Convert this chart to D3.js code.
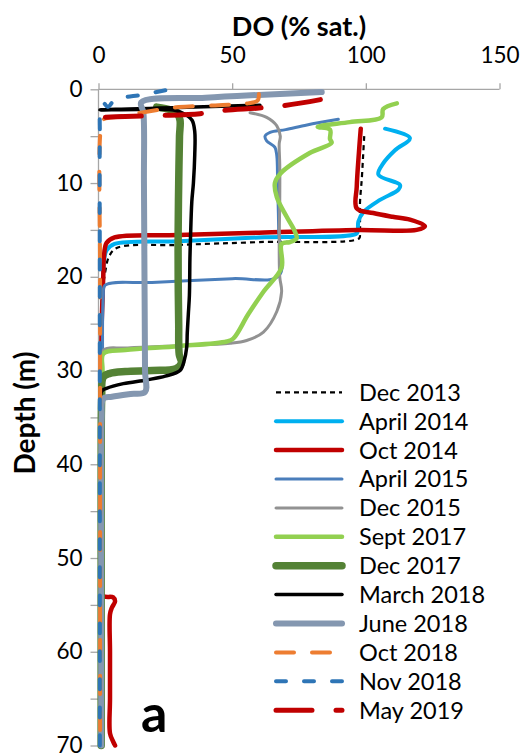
<!DOCTYPE html>
<html>
<head>
<meta charset="utf-8">
<script src="https://cdn.jsdelivr.net/npm/d3@7"></script>
<style>
  html, body { margin: 0; padding: 0; background: #fff; }
  svg { display: block; }
  text { font-family: Lato, "Noto Sans", sans-serif; fill: #000; }
</style>
</head>
<body>
<svg id="chart" width="529" height="754"></svg>
<script>
// Dissolved-oxygen profiles: each point is [DO (% sat.), depth (m)]
const dec2013 = [[99.4,5.0],[99.0,7.0],[98.5,9.5],[97.8,12.2],[97.8,15.4],[97.5,15.9],[60,16.3],[30,16.6],[7,16.9],[4,17.8],[2.5,19.5],[1.8,21],[1.5,25],[1.2,30],[1,40],[0.8,50],[0.6,60],[0.5,70]];
const apr2014 = [[107.2,4.2],[116.5,5.2],[110.9,6.5],[106.5,7.9],[104.7,9.1],[112.8,10.2],[112.2,10.7],[105.3,11.8],[99.1,13.1],[97.2,14.1],[97.0,15.0],[96.5,15.4],[60,15.8],[30,16.2],[6,16.5],[3,17.2],[2,18.5],[1.5,22],[1.2,27],[1,33]];
const oct2014 = [[98.1,4.2],[97.4,6.8],[96.6,10.4],[96.6,12.7],[102.8,13.2],[110,13.6],[116.5,13.9],[122.1,14.6],[119,15.0],[97,15.0],[60,15.3],[30,15.55],[6,15.8],[3,16.4],[2,18],[1.8,19.8],[1.2,25],[1,30],[1,40],[1,50],[1.5,54],[5.5,54.2],[6.2,54.6],[5,55.3],[4.3,56],[4.3,60],[4.3,65],[4.3,68.7],[5.5,69.6],[6.2,70]];
const apr2015 = [[89.7,3.2],[78,3.8],[70,4.3],[64.2,4.6],[62.3,5.0],[62.9,5.5],[66,6.2],[66.7,7.1],[67,10],[67.4,15],[67.5,19.9],[50,20.2],[20,20.6],[2.5,20.9],[1.8,22],[1.5,30],[1.2,40],[1,50],[1,60],[1,70]];
const dec2015 = [[56.7,2.5],[62.9,3.0],[66.7,3.9],[68,5.0],[67.6,5.8],[67.8,8],[67.8,12],[67.6,16],[67.8,20],[68.5,21.6],[66.7,23.7],[61.7,25.9],[55.4,26.8],[49.2,27.1],[30,27.35],[10,27.6],[2,27.8],[1.5,30],[1.2,40],[1,50],[1,60],[1,70]];
const sep2017 = [[111.6,1.5],[106.5,2.1],[105.9,3.0],[94,3.5],[82,4.0],[86.6,4.3],[86.6,5.3],[87.2,5.7],[79,6.8],[68,9.0],[66,10],[66.7,11.5],[70.4,13.6],[73.5,15.2],[74.1,15.9],[71.6,16.3],[68.5,16.5],[68.5,19],[61.7,21.6],[56,24],[50.4,26.6],[48,26.9],[30,27.4],[10,27.8],[1.8,28.2],[1.5,30],[1.2,40],[1,50],[1,60],[1,70]];
const dec2017 = [[21.8,1.9],[27,2.2],[29.5,2.6],[30.5,3.3],[30.3,5],[30,10],[29.8,15],[29.8,20],[30,25],[30.2,28.3],[31,29.2],[29,29.8],[20,30.0],[10,30.1],[4.3,30.3],[1.8,30.7],[1.2,33],[1,40],[1,50],[1,60],[1,70]];
const mar2018 = [[60.4,1.7],[30,1.95],[0.5,2.2],[15,2.15],[28,2.2],[32,2.6],[35,3.3],[36,4.5],[36,7],[35.5,10],[34.9,12],[34.4,16],[34.2,18],[34,22],[33.6,24],[33.2,26],[33,27.5],[32,29],[30.5,30.0],[25,30.6],[18,31],[9.3,31.4],[3,31.9],[1.2,32.2],[1,35],[0.8,40],[0.8,50],[0.8,60],[0.8,70]];
const jun2018 = [[83.5,0.3],[60,0.6],[40,0.9],[16,1.4],[16.8,2.5],[17,10],[17.2,20],[17.4,30],[17.4,32.3],[12,32.5],[5,32.8],[1.8,33.0],[1.2,35],[1,40],[1,50],[1,60],[1,70]];
const oct2018 = [[60,0.5],[59.5,1.2],[56,1.5],[45,1.7],[30,1.9],[18,2.4],[8,2.9],[1.5,3.3],[0.6,5],[0.6,20],[0.6,40],[0.6,60],[0.6,70]];
const nov2018 = [[25,0.1],[16,0.6],[9,0.9],[5.5,1.3],[3.5,1.9],[2,1.5],[0.8,2.1],[0.5,5],[0.5,20],[0.5,40],[0.5,60],[0.5,70]];
const may2019 = [[83,1.1],[68,1.8],[60,2.0],[45,2.3],[38,2.6],[23,2.8],[10,2.9],[0.6,3.0]];

const seriesNames = ["Dec 2013","April 2014","Oct 2014","April 2015","Dec 2015","Sept 2017","Dec 2017","March 2018","June 2018","Oct 2018","Nov 2018","May 2019"];
const seriesValues = [dec2013, apr2014, oct2014, apr2015, dec2015, sep2017, dec2017, mar2018, jun2018, oct2018, nov2018, may2019];

const xTicks = [0, 50, 100, 150];
const yTicks = [0, 5, 10, 15, 20, 25, 30, 35, 40, 45, 50, 55, 60, 65, 70];

// Line styles, one per series in the same order
const styles = [
  { color: "#000000", width: 2.2, dash: "5,4",  cap: "butt" },
  { color: "#00B0F0", width: 4,   dash: null,   cap: "round" },
  { color: "#C00000", width: 4.5, dash: null,   cap: "round" },
  { color: "#4A7EBB", width: 3,   dash: null,   cap: "round" },
  { color: "#929292", width: 3,   dash: null,   cap: "round" },
  { color: "#92D050", width: 4.5, dash: null,   cap: "round" },
  { color: "#548235", width: 7.5, dash: null,   cap: "round" },
  { color: "#000000", width: 3.5, dash: null,   cap: "round" },
  { color: "#8497B0", width: 6,   dash: null,   cap: "round" },
  { color: "#ED7D31", width: 4,   dash: "18,18", cap: "round" },
  { color: "#2E75B6", width: 4,   dash: "10,18", cap: "round" },
  { color: "#C00000", width: 5,   dash: "36,24", cap: "round" }
];

const svg = d3.select("#chart");
const plot = { left: 98.5, right: 499.5, top: 89.3, bottom: 745.5 };

const x = d3.scaleLinear().domain([0, 150]).range([plot.left, plot.right]);
const y = d3.scaleLinear().domain([0, 70]).range([plot.top, plot.bottom]);

const axisColor = "#A6A6A6";

// Top DO axis
const gx = svg.append("g")
  .attr("transform", `translate(0,${plot.top})`)
  .call(d3.axisTop(x).tickValues(xTicks).tickSize(6).tickPadding(20).tickFormat(d3.format("d")));
gx.select(".domain").attr("stroke", axisColor).attr("stroke-width", 1.3).attr("d", `M${plot.left},0H${plot.right}`);
gx.selectAll(".tick line").attr("stroke", axisColor).attr("stroke-width", 1.3);
gx.selectAll(".tick text").attr("font-size", 22.5).attr("font-family", "Lato, sans-serif").attr("fill", "#000");

// Left depth axis
const gy = svg.append("g")
  .attr("transform", `translate(${plot.left},0)`)
  .call(d3.axisLeft(y).tickValues(yTicks).tickSize(8).tickPadding(8)
    .tickFormat(d => d % 10 === 0 ? d : ""));
gy.select(".domain").attr("stroke", axisColor).attr("stroke-width", 1.3).attr("d", `M0,${plot.top}V${plot.bottom}`);
gy.selectAll(".tick line").attr("stroke", axisColor).attr("stroke-width", 1.3);
gy.selectAll(".tick text").attr("font-size", 22.5).attr("font-family", "Lato, sans-serif").attr("fill", "#000");

// Axis titles
svg.append("text")
  .attr("x", 299).attr("y", 36)
  .attr("text-anchor", "middle")
  .attr("font-size", 27).attr("font-weight", "bold")
  .text("DO (% sat.)");

svg.append("text")
  .attr("transform", "translate(35,413) rotate(-90)")
  .attr("text-anchor", "middle")
  .attr("font-size", 28).attr("font-weight", "bold")
  .text("Depth (m)");

// Profiles
const line = d3.line()
  .x(d => x(d[0]))
  .y(d => y(d[1]))
  .curve(d3.curveCatmullRom.alpha(0.5));

const gLines = svg.append("g").attr("fill", "none").attr("stroke-linejoin", "round");
seriesValues.forEach((vals, i) => {
  const s = styles[i];
  gLines.append("path")
    .datum(vals)
    .attr("d", line)
    .attr("stroke", s.color)
    .attr("stroke-width", s.width)
    .attr("stroke-linecap", s.cap)
    .attr("stroke-dasharray", s.dash);
});

// Legend
const legend = svg.append("g");
seriesNames.forEach((name, i) => {
  const s = styles[i];
  const ly = 392.3 + i * 28.9;
  legend.append("line")
    .attr("x1", 276).attr("x2", 342)
    .attr("y1", ly).attr("y2", ly)
    .attr("stroke", s.color)
    .attr("stroke-width", s.width)
    .attr("stroke-linecap", s.cap)
    .attr("stroke-dasharray", s.dash);
  legend.append("text")
    .attr("x", 359).attr("y", ly)
    .attr("dy", "0.36em")
    .attr("font-size", 23.5)
    .text(name);
});

// Panel letter
svg.append("text")
  .attr("x", 141).attr("y", 732)
  .attr("font-family", "'Liberation Sans', Arial, sans-serif")
  .attr("font-size", 52).attr("font-weight", "bold")
  .text("a");
</script>
</body>
</html>
